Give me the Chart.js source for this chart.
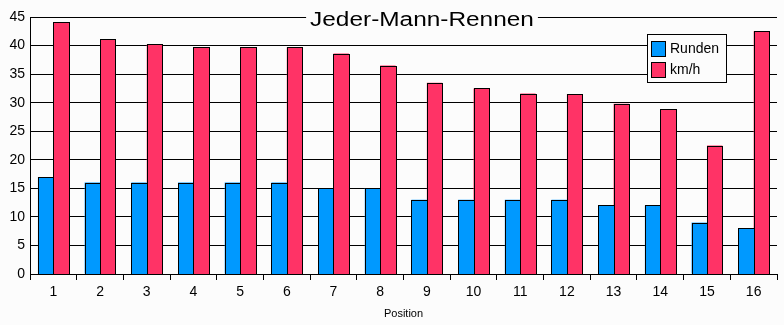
<!DOCTYPE html>
<html>
<head>
<meta charset="utf-8">
<script src="https://cdn.jsdelivr.net/npm/chart.js@4/dist/chart.umd.min.js"></script>
<style>
  html, body { margin: 0; padding: 0; background: #fcfcfc; }
  #wrap { width: 784px; height: 325px; }
</style>
</head>
<body>
<div id="wrap"><canvas id="chartRennen" width="784" height="325"></canvas></div>
<script>
// ── DATOS ──
const positionen = ["1", "2", "3", "4", "5", "6", "7", "8", "9", "10", "11", "12", "13", "14", "15", "16"];
const runden = [17, 16, 16, 16, 16, 16, 15, 15, 13, 13, 13, 13, 12, 12, 9, 8];
const kmh = [44.1, 41.1, 40.2, 39.7, 39.7, 39.7, 38.6, 36.5, 33.5, 32.5, 31.6, 31.5, 29.8, 28.9, 22.5, 42.5];
const titel = "Jeder-Mann-Rennen";

const BG = "#fcfcfc";
const FONT = "'Liberation Sans', Arial, sans-serif";

// Hintergrund
const bgPlugin = {
    id: "bg",
    beforeDraw(chart) {
        const ctx = chart.ctx;
        ctx.save();
        ctx.fillStyle = BG;
        ctx.fillRect(0, 0, chart.width, chart.height);
        ctx.restore();
    }
};

// Balken pixelgenau nachzeichnen, damit die schwarzen Ränder scharf bleiben
const kantenPlugin = {
    id: "kanten",
    afterDatasetsDraw(chart) {
        const ctx = chart.ctx;
        ctx.save();
        ctx.lineWidth = 1;
        ctx.strokeStyle = "#000";
        chart.data.datasets.forEach((ds, i) => {
            chart.getDatasetMeta(i).data.forEach(bar => {
                const l = Math.round(bar.x - bar.width / 2);
                const r = Math.round(bar.x + bar.width / 2);
                const t = Math.round(bar.y);
                const b = Math.round(bar.base);
                ctx.fillStyle = ds.backgroundColor;
                ctx.fillRect(l, t, r - l, b - t);
                ctx.strokeRect(l + 0.5, t + 0.5, r - l, b - t);
            });
        });
        ctx.restore();
    }
};

// Titel mitten auf der obersten Gitterlinie, leicht gestreckt
const titelPlugin = {
    id: "titel",
    afterDraw(chart) {
        const ctx = chart.ctx;
        const sx = 1.22;
        const cx = 422, base = 26;
        ctx.save();
        ctx.font = "20px " + FONT;
        const w = ctx.measureText(titel).width * sx;
        ctx.fillStyle = BG;
        ctx.fillRect(cx - w / 2 - 4, 6, w + 8, 22);
        ctx.translate(cx, base);
        ctx.scale(sx, 1);
        ctx.fillStyle = "#000";
        ctx.textAlign = "center";
        ctx.textBaseline = "alphabetic";
        ctx.fillText(titel, 0, 0);
        ctx.restore();
    }
};

// Legende mit Rahmen innerhalb der Zeichenfläche
const legendePlugin = {
    id: "legende",
    afterDraw(chart) {
        const ctx = chart.ctx;
        const x = 647, y = 34, w = 79, h = 48;
        ctx.save();
        ctx.fillStyle = BG;
        ctx.fillRect(x, y, w, h);
        ctx.strokeStyle = "#000";
        ctx.lineWidth = 1;
        ctx.strokeRect(x + 0.5, y + 0.5, w, h);
        ctx.font = "14px " + FONT;
        ctx.textBaseline = "middle";
        chart.data.datasets.forEach((ds, i) => {
            const sy = y + 7 + i * 21;
            ctx.fillStyle = ds.backgroundColor;
            ctx.fillRect(x + 4, sy, 14, 15);
            ctx.strokeRect(x + 4.5, sy + 0.5, 14, 15);
            ctx.fillStyle = "#000";
            ctx.fillText(ds.label, x + 23, sy + 8);
        });
        ctx.restore();
    }
};

new Chart(document.getElementById("chartRennen"), {
    type: "bar",
    data: {
        labels: positionen,
        datasets: [
            {
                label: "Runden", data: runden, backgroundColor: "#0099ff",
                borderWidth: 0, categoryPercentage: 0.66, barPercentage: 1.0
            },
            {
                label: "km/h", data: kmh, backgroundColor: "#ff3366",
                borderWidth: 0, categoryPercentage: 0.66, barPercentage: 1.0
            }
        ]
    },
    options: {
        responsive: false,
        animation: false,
        layout: { padding: { top: 17, right: 7, left: 0, bottom: 0 } },
        plugins: {
            legend: { display: false },
            title: { display: false },
            tooltip: { enabled: false }
        },
        scales: {
            x: {
                afterFit: s => { s.height = 51; },
                grid: { drawOnChartArea: false, offset: true, tickLength: 6, color: "#000" },
                border: { color: "#000" },
                ticks: { color: "#000", font: { family: FONT, size: 14 }, padding: 4 },
                title: {
                    display: true, text: "Position", color: "#000",
                    font: { family: FONT, size: 11 }, padding: { top: 0, bottom: 4 }
                }
            },
            y: {
                min: 0, max: 45,
                afterFit: s => { s.width = 30; },
                grid: { color: "#000", drawTicks: false },
                border: { color: "#000" },
                ticks: { stepSize: 5, color: "#000", font: { family: FONT, size: 14 }, padding: 5 }
            }
        }
    },
    plugins: [bgPlugin, kantenPlugin, titelPlugin, legendePlugin]
});
</script>
</body>
</html>
